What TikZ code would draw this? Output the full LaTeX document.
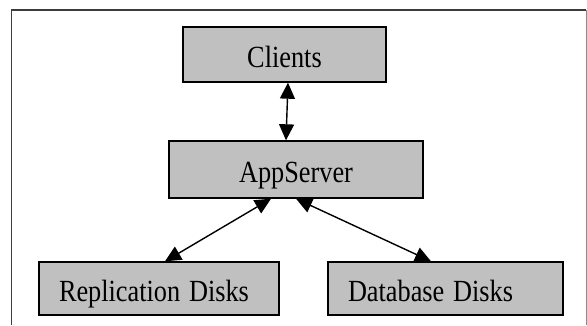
\documentclass[tikz,border=0pt]{standalone}
\usepackage{fontspec}
\setmainfont{Liberation Serif}
\usepackage{tikz}
\usetikzlibrary{arrows.meta,positioning}
\definecolor{boxfill}{RGB}{192,192,192}
\definecolor{frameleft}{RGB}{60,60,60}
\definecolor{frameright}{RGB}{140,140,140}
\newcommand{\tallbox}[1]{\scalebox{1}[1.17]{#1}}
\tikzset{
	tier/.style={draw=black,line width=1.4pt,fill=boxfill,inner sep=0pt,
		text height=30pt,text depth=5pt,font=\fontsize{26.3}{30}\selectfont},
	disk/.style={tier,text width=#1,align=left,inner xsep=20pt},
	link/.style={line width=1.4pt,{Triangle[length=16pt,width=15pt]}-{Triangle[length=16pt,width=15pt]}}
}

\begin{document}
\begin{tikzpicture}[x=1pt,y=1pt]
			\useasboundingbox (0,0) rectangle (587,325);
			\draw[color=frameleft,line width=1.5pt] (11.5,0) -- (11.5,315) -- (586,315);
			\draw[color=frameright,line width=0.8pt] (586,315) -- (586,0);
			\node[tier,minimum width=203pt,minimum height=55pt] (clients) at (284.5,270.5) {\tallbox{Clients}};
			\node[tier,minimum width=254pt,minimum height=57pt] (app) at (296,155.5) {\tallbox{AppServer}};
			\node[disk=200pt,minimum height=53pt] (repl) at (159,36.5) {\tallbox{Replication Disks}};
			\node[disk=195pt,minimum height=53pt] (db) at (445.5,36.5) {\tallbox{Database Disks}};
			\draw[link] ([xshift=3.5pt]clients.south) -- ([xshift=-10pt]app.north);
			\draw[link] ([xshift=-25pt]app.south) -- ([xshift=6pt]repl.north);
			\draw[link] (app.south) -- ([xshift=-14.5pt]db.north);
		\end{tikzpicture}
\end{document}
